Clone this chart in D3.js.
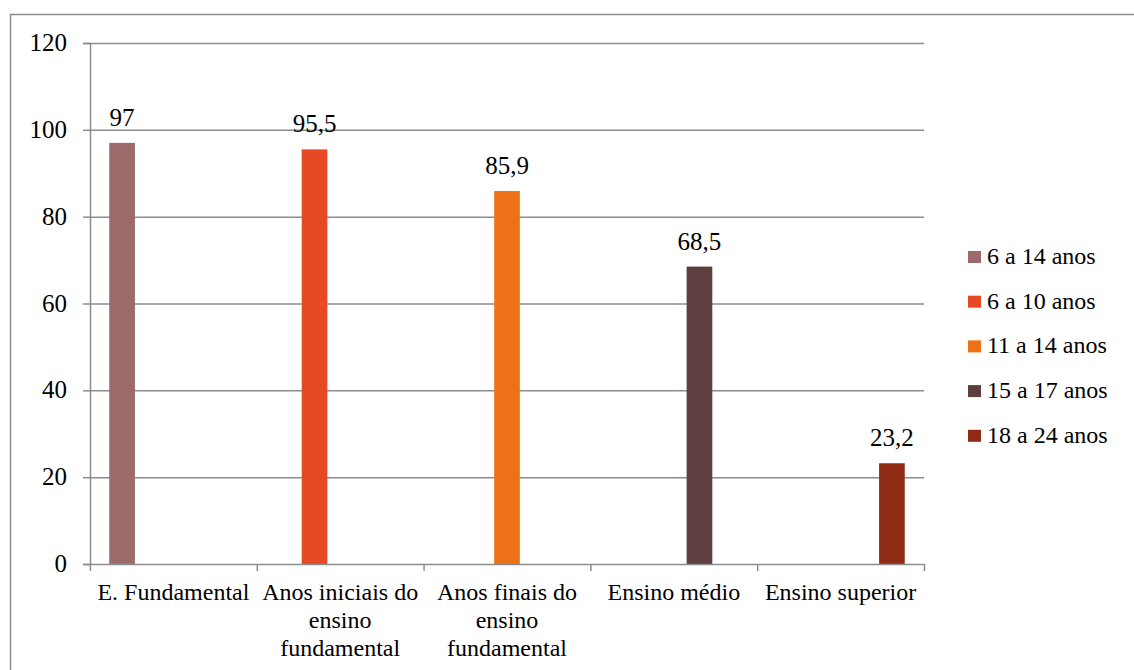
<!DOCTYPE html>
<html>
<head>
<meta charset="utf-8">
<script src="https://cdn.jsdelivr.net/npm/d3@7"></script>
<style>html,body{margin:0;background:#fff}</style>
</head>
<body>
<svg id="chart" width="1134" height="670"></svg>
<script>
const categories = [
  ["E. Fundamental"],
  ["Anos iniciais do", "ensino", "fundamental"],
  ["Anos finais do", "ensino", "fundamental"],
  ["Ensino médio"],
  ["Ensino superior"]
];
const seriesNames = ["6 a 14 anos", "6 a 10 anos", "11 a 14 anos", "15 a 17 anos", "18 a 24 anos"];
const seriesColors = ["#9c6a6a", "#e64a24", "#ed7117", "#5e3e3f", "#8f2a14"];
// values[series][category]; null where the series has no value
const values = [
  [97, null, null, null, null],
  [null, 95.5, null, null, null],
  [null, null, 85.9, null, null],
  [null, null, null, 68.5, null],
  [null, null, null, null, 23.2]
];
const yTicks = [0, 20, 40, 60, 80, 100, 120];

(function () {
const FONT = "Liberation Serif";
const svg = d3.select("#chart");
const fontSize = 24;
const mLeft = 90, mRight = 924, mTop = 43, mBottom = 564;
const GRID = "#8c8c8c";

// outer border
svg.append("rect").attr("x", 10.5).attr("y", 14.5).attr("width", 1140).attr("height", 700)
  .attr("fill", "none").attr("stroke", GRID).attr("stroke-width", 1.5);

const catIdx = categories.map((d, i) => i);
const x0 = d3.scaleBand().domain(catIdx).range([mLeft, mRight]).padding(0);
const bw = x0.bandwidth();
const barW = bw / 6.5;
const x1 = d3.scaleBand().domain(seriesNames.map((d, i) => i))
  .range([0.75 * barW, bw - 0.75 * barW]).padding(0);
const y = d3.scaleLinear().domain([0, 120]).range([mBottom, mTop]);

// gridlines
svg.append("g").selectAll("line").data(yTicks.filter(t => t > 0)).join("line")
  .attr("x1", mLeft).attr("x2", mRight)
  .attr("y1", d => y(d) + 0.5).attr("y2", d => y(d) + 0.5)
  .attr("stroke", GRID).attr("stroke-width", 1.5);

// y axis (ticks via d3.axisLeft; labels drawn as plain text from the same scale)
const yAxis = svg.append("g").attr("transform", `translate(${mLeft},0)`)
  .call(d3.axisLeft(y).tickValues(yTicks).tickSize(7).tickFormat(() => ""));
yAxis.select(".domain").attr("stroke", GRID).attr("stroke-width", 1.5);
yAxis.selectAll(".tick line").attr("stroke", GRID).attr("stroke-width", 1.5);
svg.selectAll("text.ytick").data(yTicks).join("text").attr("class", "ytick")
  .attr("x", mLeft - 23).attr("y", d => y(d) + 8)
  .attr("text-anchor", "end")
  .attr("font-family", FONT).attr("font-size", fontSize + 1)
  .attr("fill", "#000")
  .text(d => d);

// bars
const barData = [];
values.forEach((row, s) => row.forEach((v, c) => { if (v != null) barData.push({ s, c, v }); }));

svg.selectAll("rect.bar").data(barData).join("rect").attr("class", "bar")
  .attr("x", d => x0(d.c) + x1(d.s))
  .attr("width", x1.bandwidth())
  .attr("y", d => y(d.v))
  .attr("height", d => y(0) - y(d.v))
  .attr("fill", d => seriesColors[d.s]);

// data labels
svg.selectAll("text.lbl").data(barData).join("text").attr("class", "lbl")
  .attr("x", d => x0(d.c) + x1(d.s) + x1.bandwidth() / 2)
  .attr("y", d => y(d.v) - 17)
  .attr("text-anchor", "middle")
  .attr("font-family", FONT).attr("font-size", fontSize + 1)
  .attr("fill", "#000")
  .text(d => String(d.v).replace(".", ","));

// x axis line and ticks
svg.append("line").attr("x1", mLeft).attr("x2", mRight)
  .attr("y1", mBottom + 0.5).attr("y2", mBottom + 0.5)
  .attr("stroke", GRID).attr("stroke-width", 1.5);
const xTickPos = catIdx.map(i => x0(i)).concat([mRight]);
svg.selectAll("line.xt").data(xTickPos).join("line").attr("class", "xt")
  .attr("x1", d => d + 0.5).attr("x2", d => d + 0.5)
  .attr("y1", mBottom).attr("y2", mBottom + 7)
  .attr("stroke", GRID).attr("stroke-width", 1.5);

// category labels (one text per line)
const catLines = [];
categories.forEach((lines, i) => lines.forEach((ln, k) => catLines.push({ i, k, ln })));
svg.selectAll("text.cat").data(catLines).join("text").attr("class", "cat")
  .attr("x", d => x0(d.i) + bw / 2)
  .attr("y", d => 600 + d.k * 28)
  .attr("text-anchor", "middle")
  .attr("font-family", FONT).attr("font-size", fontSize)
  .attr("fill", "#000")
  .text(d => d.ln);

// legend
svg.selectAll("rect.lg").data(seriesNames).join("rect").attr("class", "lg")
  .attr("x", 968).attr("y", (d, i) => 251 + i * 44.7)
  .attr("width", 13).attr("height", 12)
  .attr("fill", (d, i) => seriesColors[i]);
svg.selectAll("text.lg").data(seriesNames).join("text").attr("class", "lg")
  .attr("x", 987).attr("y", (d, i) => 264 + i * 44.7)
  .attr("font-family", FONT).attr("font-size", fontSize)
  .attr("fill", "#000")
  .text(d => d);
})();
</script>
</body>
</html>
